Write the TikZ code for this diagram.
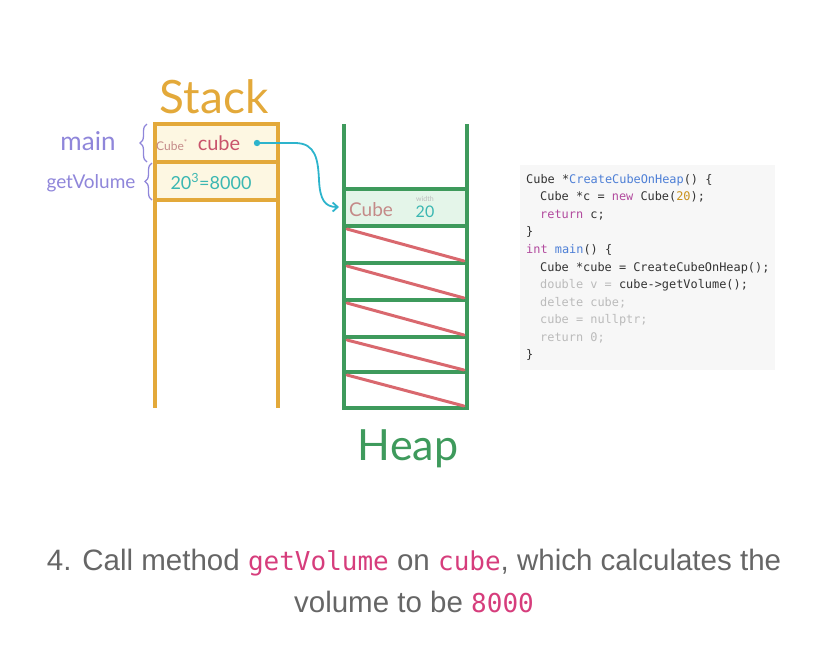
\documentclass[tikz,border=0pt]{standalone}
\usepackage{fontspec}
\setmainfont{Lato}
\newfontfamily\capfont{Liberation Sans}
\newfontfamily\codefont{DejaVu Sans Mono}
\usetikzlibrary{arrows.meta,decorations.pathreplacing}
\definecolor{stackc}{HTML}{E3A93A}
\definecolor{stackfill}{HTML}{FDF7E2}
\definecolor{heapc}{HTML}{3E9A5C}
\definecolor{heapfill}{HTML}{E4F5E9}
\definecolor{redl}{HTML}{D9686E}
\definecolor{purp}{HTML}{8F86DA}
\definecolor{teal}{HTML}{2DB4CC}
\definecolor{tealt}{HTML}{3BB7B2}
\definecolor{cubered}{HTML}{C9546C}
\definecolor{cubebrown}{HTML}{C48A88}
\definecolor{codebg}{HTML}{F7F7F7}
\definecolor{codefg}{HTML}{333333}
\definecolor{codegray}{HTML}{BBBBBB}
\definecolor{codeblue}{HTML}{4D7FD6}
\definecolor{codekw}{HTML}{B24A9E}
\definecolor{codenum}{HTML}{C9921C}
\definecolor{capgray}{HTML}{666666}
\definecolor{cappink}{HTML}{D63D7C}
\newcommand{\capmono}[1]{\textcolor{cappink}{\codefont\fontsize{26}{30}\selectfont #1}}
\tikzset{
  stackline/.style={draw=stackc,line width=3.4pt},
  heapline/.style={draw=heapc,line width=3.4pt},
  slash/.style={draw=redl,line width=3pt,line cap=round},
  hand/.style={inner sep=0pt,font=\fontsize{#1}{#1}\selectfont},
  codeline/.style={anchor=base west,inner sep=0pt,font=\codefont\fontsize{11.9}{12}\selectfont,text=codefg},
  captext/.style={anchor=base,inner sep=0pt,font=\capfont\fontsize{29.5}{32}\selectfont,text=capgray},
}
\begin{document}
\begin{tikzpicture}[x=1pt,y=-1pt]
\useasboundingbox (0,0) rectangle (828,649);
% ---- Stack ----
\fill[stackfill] (155,124) rectangle (278,200);
\draw[stackline] (155,408) -- (155,124) -- (278,124) -- (278,408);
\draw[stackline] (155,162) -- (278,162);
\draw[stackline] (155,200) -- (278,200);
\node[hand=46,text=stackc,anchor=base] (stacklbl) at (214,113) {Stack};
% braces and labels
\draw[purp,line width=1.3pt,decorate,decoration={brace,amplitude=7pt}] (147,162) -- (147,124);
\draw[purp,line width=1.3pt,decorate,decoration={brace,amplitude=7pt}] (152,200) -- (152,163);
\node[hand=26,text=purp,anchor=base] (mainlbl) at (88,150) {main};
\node[hand=19,text=purp,anchor=base] (gvlbl) at (91,188) {getVolume};
% cell contents
\node[hand=12,text=cubebrown,anchor=base] (cubetype) at (172,150) {Cube\textsuperscript{*}};
\node[hand=20,text=cubered,anchor=base] (cubevar) at (219,150) {cube};
\node[hand=18,text=tealt,anchor=base] (vol) at (211,189) {20\textsuperscript{3}=8000};
\fill[teal] (257,143) circle (3.2pt) coordinate (dot);
% ---- Heap ----
\fill[heapfill] (344,189) rectangle (467,226);
\draw[heapline] (344,124) -- (344,408) -- (467,408) -- (467,124);
\foreach \y in {189,226,263,300,337,372} \draw[heapline] (344,\y) -- (467,\y);
\foreach \a/\b in {226/263,263/300,300/337,337/372,372/408}
  \draw[slash] (347,\a+3) -- (464,\b-2);
\node[hand=43,text=heapc,anchor=base] (heaplbl) at (408,460) {Heap};
\node[hand=19,text=cubebrown,anchor=base] (heapcube) at (371,216) {Cube};
\node[hand=7,text=codegray,anchor=base] (widthlbl) at (425,201) {width};
\node[hand=16,text=tealt,anchor=base] (widthval) at (425,217) {20};
\coordinate (arrowend) at (339,207);
\draw[teal,line width=1.8pt,-{Straight Barb[length=5pt,width=9pt]}] (dot) -- (295,143)
  .. controls (316,143) and (318,160) .. (319,180)
  .. controls (320,200) and (325,207) .. (arrowend);
% ---- Code ----
\fill[codebg] (520,165) rectangle (775,370);
\node[codeline] (c1) at (526,183) {Cube *\textcolor{codeblue}{CreateCubeOnHeap}() \{};
\node[codeline] (c2) at (540,200) {Cube *c = \textcolor{codekw}{new} Cube(\textcolor{codenum}{20});};
\node[codeline] (c3) at (540,218) {\textcolor{codekw}{return} c;};
\node[codeline] (c4) at (526,235) {\}};
\node[codeline] (c5) at (526,253) {\textcolor{codekw}{int} \textcolor{codeblue}{main}() \{};
\node[codeline] (c6) at (540,271) {Cube *cube = CreateCubeOnHeap();};
\node[codeline] (c7) at (540,288) {\textcolor{codegray}{double v =} cube->getVolume();};
\node[codeline,text=codegray] (c8) at (540,306) {delete cube;};
\node[codeline,text=codegray] (c9) at (540,323) {cube = nullptr;};
\node[codeline,text=codegray] (c10) at (540,341) {return 0;};
\node[codeline] (c11) at (526,358) {\}};
% ---- Caption ----
\node[captext] (cap1) at (414,570) {4. Call method \capmono{getVolume} on \capmono{cube}, which calculates the};
\node[captext] (cap2) at (414,612) {volume to be \capmono{8000}};
\end{tikzpicture}
\end{document}
